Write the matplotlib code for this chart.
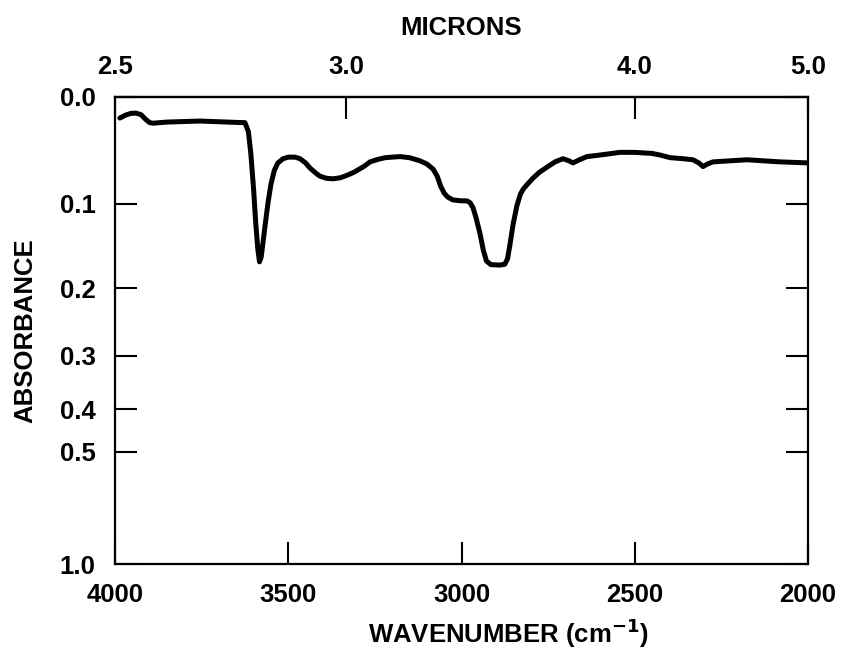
import numpy as np
import matplotlib
matplotlib.use("Agg")
import matplotlib.pyplot as plt

# Spectrum
wavenumber = [3986, 3970, 3955, 3940, 3925, 3912, 3900, 3890, 3850, 3755, 3650, 3625, 3615,
              3608, 3600, 3594, 3588, 3583, 3578, 3572, 3565, 3558, 3550, 3540, 3530, 3515,
              3500, 3480, 3466, 3450, 3437, 3420, 3408, 3390, 3371, 3350, 3330, 3310, 3300,
              3280, 3264, 3240, 3220, 3200, 3177, 3150, 3120, 3100, 3082, 3070, 3060, 3050,
              3040, 3025, 3000, 2984, 2975, 2967, 2958, 2947, 2937, 2928, 2915, 2889, 2875,
              2867, 2860, 2851, 2840, 2830, 2822, 2810, 2794, 2775, 2753, 2730, 2707, 2690,
              2678, 2660, 2638, 2600, 2543, 2500, 2450, 2427, 2398, 2360, 2332, 2315, 2303,
              2290, 2274, 2176, 2081, 2000]
absorbance = [0.018, 0.0155, 0.014, 0.0137, 0.015, 0.019, 0.022, 0.0225, 0.0215, 0.0206, 0.0218, 0.022, 0.030,
              0.050, 0.085, 0.120, 0.150, 0.166, 0.160, 0.140, 0.118, 0.098, 0.080, 0.066, 0.059, 0.055,
              0.0535, 0.0535, 0.055, 0.059, 0.064, 0.069, 0.072, 0.074, 0.0745, 0.0735, 0.071, 0.068, 0.066,
              0.062, 0.058, 0.0555, 0.054, 0.0535, 0.053, 0.054, 0.057, 0.060, 0.065, 0.072, 0.082, 0.089,
              0.093, 0.096, 0.097, 0.097, 0.099, 0.104, 0.115, 0.132, 0.152, 0.165, 0.1695, 0.170, 0.169,
              0.162, 0.145, 0.122, 0.102, 0.090, 0.085, 0.080, 0.074, 0.068, 0.063, 0.058, 0.055, 0.057,
              0.059, 0.056, 0.053, 0.0515, 0.049, 0.049, 0.050, 0.0515, 0.054, 0.055, 0.056, 0.059, 0.0625,
              0.060, 0.058, 0.056, 0.058, 0.059]

y_ticks = [0.0, 0.1, 0.2, 0.3, 0.4, 0.5, 1.0]
y_ticklabels = ["0.0", "0.1", "0.2", "0.3", "0.4", "0.5", "1.0"]
x_ticks = [4000, 3500, 3000, 2500, 2000]
micron_ticks = [2.5, 3.0, 4.0, 5.0]
micron_labels = ["2.5", "3.0", "4.0", "5.0"]

plt.rcParams['font.family'] = ['Liberation Sans', 'DejaVu Sans']
plt.rcParams['font.weight'] = 'bold'
FS = 18.5

fig = plt.figure(figsize=(8.42, 6.58), dpi=100)
ax = fig.add_axes([115/842, 1 - 564/658, (808 - 115)/842, (564 - 97)/658])

def fwd(a):
    a = np.asarray(a, dtype=float)
    return 1 - np.power(10.0, -a)

def inv(t):
    t = np.asarray(t, dtype=float)
    return -np.log10(np.clip(1 - t, 1e-9, None))

ax.set_yscale('function', functions=(fwd, inv))
ax.plot(wavenumber, absorbance, color='black', lw=3.6, solid_joinstyle='round', solid_capstyle='round')

ax.set_xlim(4000, 2000)
ax.set_ylim(1.0, 0.0)
ax.set_xticks(x_ticks)
ax.set_xticklabels([str(v) for v in x_ticks], fontsize=FS, fontweight='bold')
ax.set_yticks(y_ticks)
ax.set_yticklabels(y_ticklabels, fontsize=FS, fontweight='bold')
ax.minorticks_off()
ax.tick_params(axis='both', direction='in', length=16, width=1.5, pad=14, color='black')
ax.tick_params(axis='y', right=True)

for s in ax.spines.values():
    s.set_linewidth(1.6)

ax.set_xlabel(r"WAVENUMBER (cm$^{\mathbf{-1}}$)", fontsize=FS, fontweight='bold')
ax.xaxis.set_label_coords((509 - 115)/693, (564 - 633)/467)
ax.xaxis.label.set_va('center')
ax.set_ylabel("ABSORBANCE", fontsize=FS, fontweight='bold')
ax.yaxis.set_label_coords((25 - 115)/693, 0.5)
ax.yaxis.label.set_va('center')

sec = ax.secondary_xaxis('top', functions=(lambda x: 1e4/np.asarray(x, dtype=float),
                                           lambda x: 1e4/np.asarray(x, dtype=float)))
sec.set_xticks(micron_ticks)
sec.set_xticklabels(micron_labels, fontsize=FS, fontweight='bold')
sec.minorticks_off()
sec.tick_params(direction='in', length=16, width=1.5, pad=13)
sec.spines['top'].set_linewidth(1.6)
sec.set_xlabel("MICRONS", fontsize=FS, fontweight='bold', labelpad=14)

fig.savefig("out.png", dpi=100)
